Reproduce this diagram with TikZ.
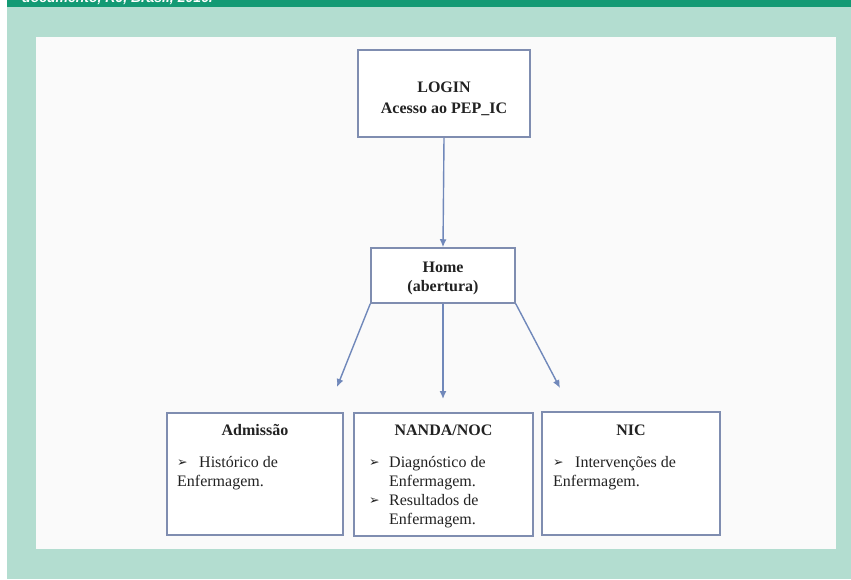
\documentclass[tikz,border=0pt]{standalone}
\usepackage{fontspec}
\setmainfont{Liberation Serif}
\newfontfamily\symfont{DejaVu Sans}
\newfontfamily\bannerfont{Liberation Sans}
\usetikzlibrary{arrows.meta}
\definecolor{mint}{HTML}{B3DDD0}
\definecolor{bargreen}{HTML}{139A74}
\definecolor{panel}{HTML}{FAFAFA}
\definecolor{boxline}{HTML}{7F8DB0}
\definecolor{arrowc}{HTML}{7088BA}
\definecolor{txtc}{HTML}{222222}
\begin{document}
\begin{tikzpicture}[x=1pt,y=-1pt,
  box/.style={draw=boxline, line width=1.5pt, fill=white, inner sep=0pt},
  txt/.style={inner sep=0pt, text=txtc, font=\fontsize{16}{18}\selectfont},
  bul/.style={inner sep=0pt, text=txtc, font=\symfont\fontsize{12.5}{12.5}\selectfont},
  arr/.style={draw=arrowc, line width=1.4pt, -{Latex[length=8pt,width=7pt]}}]
\useasboundingbox (0,0) rectangle (851,579);
\fill[white] (0,0) rectangle (851,579);
\fill[mint] (7,0) rectangle (851,579);
\fill[bargreen] (7,0) rectangle (851,7);
\begin{scope}
  \clip (7,0) rectangle (851,7);
  \node[anchor=base west, inner sep=0pt, text=white, font=\bannerfont\bfseries\itshape\fontsize{14}{14}\selectfont] (banner) at (22,2.5) {documento, RJ, Brasil, 2016.};
\end{scope}
\fill[panel] (36,37) rectangle (836,549);

% boxes
\node[box, minimum width=172pt, minimum height=87pt] (login) at (444,93.5) {};
\node[box, minimum width=144pt, minimum height=55pt] (home) at (443,275.5) {};
\node[box, minimum width=176pt, minimum height=122pt] (adm) at (255,474) {};
\node[box, minimum width=179pt, minimum height=123pt] (nanda) at (443.5,474.5) {};
\node[box, minimum width=178pt, minimum height=123pt] (nic) at (631,473.5) {};

% texts
\node[txt, anchor=base] (t1) at (444,92) {\bfseries LOGIN};
\node[txt, anchor=base] (t2) at (444,113) {\bfseries Acesso ao PEP\_IC};
\node[txt, anchor=base] (t3) at (443,272) {\bfseries Home};
\node[txt, anchor=base] (t4) at (443,291) {\bfseries (abertura)};

\node[txt, anchor=base] (a1) at (255,435) {\bfseries Admissão};
\node[bul, anchor=base west] (ab) at (177,466) {➢};
\node[txt, anchor=base west] (a2) at (199,467) {Histórico de};
\node[txt, anchor=base west] (a3) at (177,486) {Enfermagem.};

\node[txt, anchor=base] (n1) at (443.5,435) {\bfseries NANDA/NOC};
\node[bul, anchor=base west] (nb1) at (369,466) {➢};
\node[txt, anchor=base west] (n2) at (389,467) {Diagnóstico de};
\node[txt, anchor=base west] (n3) at (389,486) {Enfermagem.};
\node[bul, anchor=base west] (nb2) at (369,504) {➢};
\node[txt, anchor=base west] (n4) at (389,505) {Resultados de};
\node[txt, anchor=base west] (n5) at (389,524) {Enfermagem.};

\node[txt, anchor=base] (c1) at (631,435) {\bfseries NIC};
\node[bul, anchor=base west] (cb) at (553,466) {➢};
\node[txt, anchor=base west] (c2) at (575,467) {Intervenções de};
\node[txt, anchor=base west] (c3) at (553,486) {Enfermagem.};

% arrows
\coordinate (e1) at (337,387);
\coordinate (e2) at (443,399);
\coordinate (e3) at (560,388);
\draw[arr] (login.south) -- (home.north);
\draw[arr] (home.south west) -- (e1);
\draw[arr] (home.south) -- (e2);
\draw[arr] (home.south east) -- (e3);
\end{tikzpicture}
\end{document}
